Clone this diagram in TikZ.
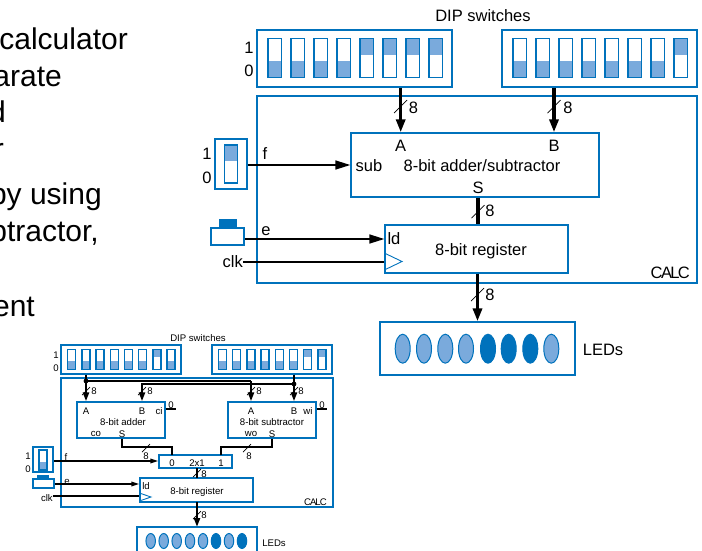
\documentclass[tikz,border=0pt]{standalone}
\usepackage{fontspec}
\setmainfont{Liberation Sans}
\newfontfamily\tightfont[LetterSpace=-10]{Liberation Sans}
\usetikzlibrary{arrows.meta,shapes.geometric}
\definecolor{edgeblue}{RGB}{0,114,188}
\definecolor{lightblue}{RGB}{122,170,220}
% #1 left, #2 top, #3 width, #4 height, #5 filled height, #6 state
\newcommand{\flipswitch}[6]{%
  \ifnum#6=1
    \fill[lightblue] (#1,#2) rectangle ++(#3,#5);
  \else
    \fill[lightblue] (#1,#2+#4-#5) rectangle ++(#3,#5);
  \fi
  \draw[swline] (#1,#2) rectangle ++(#3,#4);
}
\begin{document}
\begin{tikzpicture}[x=1pt, y=-1pt,
    bigtext/.style={font=\fontsize{16.5}{18}\selectfont, inner sep=0pt},
    smalltext/.style={font=\fontsize{9.6}{11}\selectfont, inner sep=0pt},
    slidetext/.style={font=\fontsize{30}{32}\selectfont, inner sep=0pt, anchor=base east},
    box/.style={draw=edgeblue, line width=1.4pt, inner sep=0pt},
    swline/.style={draw=edgeblue, line width=1.4pt},
    bigbus/.style={line width=3.2pt, -{Triangle[length=13pt,width=9pt]}},
    bigwire/.style={line width=1.6pt, -{Triangle[length=15pt,width=9pt]}},
    smallbus/.style={line width=2.6pt, -{Triangle[length=9pt,width=6pt]}},
    smallwire/.style={line width=1.6pt, -{Triangle[length=8pt,width=4.5pt]}},
    slash/.style={line width=0.7pt},
    ledon/.style={ellipse, draw=edgeblue, line width=1pt, fill=edgeblue, inner sep=0pt},
    ledoff/.style={ellipse, draw=edgeblue, line width=1pt, fill=lightblue, inner sep=0pt}]
    \useasboundingbox (0,0) rectangle (702,550);

    % text of the slide
    \node[slidetext] (txta) at (128,49.5) {calculator};
    \node[slidetext] (txtb) at (62,86) {arate};
    \node[slidetext] (txtc) at (6,122.7) {d};
    \node[slidetext] (txtd) at (4,159) {r};
    \node[slidetext] (txte) at (102,204) {by using};
    \node[slidetext] (txtf) at (99,241.7) {btractor,};
    \node[slidetext] (txtg) at (35,316) {ent};

    % large circuit
    \node[bigtext] (diplabel) at (483,16) {DIP switches};
    \node[box, minimum width=195pt, minimum height=57pt] (dipa) at (354.5,58.5) {};
    \node[box, minimum width=195pt, minimum height=57pt] (dipb) at (599.5,58.5) {};
    \foreach \x/\s in {0/0,1/0,2/0,3/0,4/1,5/1,6/1,7/1}
        \flipswitch{268+23*\x}{38.5}{13.3}{39}{16.5}{\s};
    \foreach \x/\s in {0/0,1/0,2/0,3/0,4/0,5/0,6/0,7/1}
        \flipswitch{513+23*\x}{38.5}{13.3}{39}{16.5}{\s};
    \node[bigtext] (onea) at (249,48) {1};
    \node[bigtext] (zeroa) at (249,71) {0};

    \node[box, line width=1.7pt, minimum width=440pt, minimum height=187pt] (calc) at (477,189.5) {};
    \node[bigtext, anchor=east] (calclabel) at (690,273) {\tightfont CALC};

    \node[box, minimum width=248pt, minimum height=64pt] (addsub) at (475,165) {};
    \node[bigtext] (ina) at (400.7,146) {A};
    \node[bigtext] (inb) at (554,146) {B};
    \node[bigtext] (subin) at (369,166) {sub};
    \node[bigtext] (addlabel) at (482,166) {8-bit adder/subtractor};
    \node[bigtext] (sumout) at (478,188) {S};

    \node[box, minimum width=32pt, minimum height=50pt] (swf) at (231,164) {};
    \flipswitch{224.7}{145}{12.6}{38}{16}{1};
    \node[bigtext] (onef) at (207,154) {1};
    \node[bigtext] (zerof) at (207,178) {0};
    \node[bigtext] (flabel) at (265,154) {f};

    \node[box, minimum width=183pt, minimum height=48pt] (reg) at (476.5,249) {};
    \node[bigtext] (ldin) at (394,239) {ld};
    \node[bigtext] (reglabel) at (481,251) {8-bit register};
    \draw[draw=edgeblue, line width=0.9pt] (reg.west |- 0,253) -- (402,261.5) -- (reg.west |- 0,270);

    \node[box, minimum width=33pt, minimum height=17pt] (btn) at (227.5,236.5) {};
    \fill[edgeblue] (219,219) rectangle (237,228);
    \node[bigtext] (elabel) at (266,231) {e};
    \node[bigtext, anchor=east] (clklabel) at (243,262) {clk};

    \node[box, minimum width=195pt, minimum height=53pt] (leds) at (477.5,348.5) {};
    \foreach \x/\st [count=\i] in {402.7/ledoff,424/ledoff,445.3/ledoff,466/ledoff,488/ledon,508.7/ledon,530.3/ledon,551.3/ledoff}
        \node[\st, minimum width=15pt, minimum height=29pt] (leda\i) at (\x,348.7) {};
    \node[bigtext] (ledlabel) at (603,350) {LEDs};

    \draw[bigbus] (ina |- dipa.south) -- (ina |- addsub.north);
    \draw[bigbus] (inb |- dipb.south) -- (inb |- addsub.north);
    \draw[line width=3.2pt] (sumout |- addsub.south) -- (sumout |- reg.north);
    \draw[bigbus] (leds.north |- reg.south) -- (leds.north);
    \draw[bigwire] (swf.east |- addsub.west) -- (addsub.west);
    \draw[bigwire] (btn.east |- 0,239) -- (reg.west |- 0,239);
    \draw[line width=1.6pt] (clklabel.east) -- (reg.west |- clklabel);

    \foreach \x/\y in {400.7/106,554/106,478/211,477.5/294}
        \draw[slash] (\x-6.5,\y+7) -- (\x+6.5,\y-6);
    \node[bigtext] (wa) at (413.5,108) {8};
    \node[bigtext] (wb) at (568,108) {8};
    \node[bigtext] (ws) at (490,211) {8};
    \node[bigtext] (wr) at (490,295) {8};

    % small circuit
    \node[smalltext] (diplabels) at (198,338) {DIP switches};
    \node[box, minimum width=120pt, minimum height=29pt] (dipc) at (121,359.5) {};
    \node[box, minimum width=120pt, minimum height=29pt] (dipd) at (272,359.5) {};
    \foreach \x/\s in {0/0,1/0,2/0,3/0,4/0,5/0,6/1,7/0}
        \flipswitch{67.7+14.2*\x}{349.3}{8}{20}{8}{\s};
    \foreach \x/\s in {0/0,1/0,2/0,3/0,4/0,5/0,6/1,7/1}
        \flipswitch{218.5+14.2*\x}{349.3}{8}{20}{8}{\s};
    \node[smalltext] (onec) at (56,355) {1};
    \node[smalltext] (zeroc) at (56,368) {0};

    \node[box, line width=1.7pt, minimum width=272pt, minimum height=129pt] (calcs) at (197,442.5) {};
    \node[smalltext, anchor=east] (calcslabel) at (327,502) {\tightfont CALC};

    \node[box, minimum width=88pt, minimum height=36pt] (adder) at (121,420) {};
    \node[smalltext] (aa) at (86,411) {A};
    \node[smalltext] (ab) at (142,411) {B};
    \node[smalltext] (aci) at (159,411) {ci};
    \node[smalltext] (acz) at (171,405) {0};
    \node[smalltext] (addertxt) at (123,422) {8-bit adder};
    \node[smalltext] (aco) at (96,434) {co};
    \node[smalltext] (as) at (122,434) {S};

    \node[box, minimum width=88pt, minimum height=36pt] (subtr) at (272,420) {};
    \node[smalltext] (sa) at (251,411) {A};
    \node[smalltext] (sb) at (294,411) {B};
    \node[smalltext] (swi) at (308,411) {wi};
    \node[smalltext] (swz) at (322,405) {0};
    \node[smalltext] (subtrtxt) at (272,422) {8-bit subtractor};
    \node[smalltext] (swo) at (251,434) {wo};
    \node[smalltext] (ss) at (272,434) {S};

    \node[box, minimum width=73pt, minimum height=13pt] (mux) at (195.5,461.5) {};
    \node[smalltext] (mz) at (172,463) {0};
    \node[smalltext] (mlabel) at (197,463) {2x1};
    \node[smalltext] (mo) at (221,463) {1};

    \node[box, minimum width=113pt, minimum height=24pt] (regs) at (196.5,490) {};
    \node[smalltext] (ldins) at (146,486) {ld};
    \node[smalltext] (regslabel) at (197,492) {8-bit register};
    \draw[draw=edgeblue, line width=0.9pt] (regs.west |- 0,493) -- (151,497) -- (regs.west |- 0,501);

    \node[box, minimum width=20pt, minimum height=25pt] (swg) at (43,459.5) {};
    \flipswitch{39}{450}{8}{20}{8}{0};
    \node[smalltext] (oneg) at (28,456) {1};
    \node[smalltext] (zerog) at (28,469) {0};
    \node[smalltext] (fs) at (66,457) {f};

    \node[box, minimum width=21pt, minimum height=9pt] (btns) at (43.5,483.5) {};
    \fill[edgeblue] (37,475) rectangle (49,479);
    \node[smalltext] (es) at (67,482) {e};
    \node[smalltext, anchor=east] (clks) at (53,498) {clk};

    \node[box, minimum width=120pt, minimum height=26pt] (ledsb) at (197,540) {};
    \foreach \x/\st [count=\i] in {150.7/ledoff,163.7/ledoff,176.7/ledoff,190/ledoff,203/ledoff,216/ledon,229/ledoff,242/ledon}
        \node[\st, minimum width=9.5pt, minimum height=15pt] (ledb\i) at (\x,541) {};
    \node[smalltext] (ledslabel) at (274,543) {LEDs};

    \coordinate (buslo) at (86,381);
    \coordinate (bushi) at (294,384);
    \draw[smallbus] (aa |- dipc.south) -- (aa |- adder.north);
    \draw[smallbus] (sb |- dipd.south) -- (sb |- subtr.north);
    \draw[line width=2.6pt] (buslo) -- (sa |- buslo);
    \draw[smallbus] (sa |- buslo) -- (sa |- subtr.north);
    \draw[smallbus] (bushi) -| (ab |- adder.north);
    \fill (buslo) circle (2.4);
    \fill (bushi) circle (2.4);
    \draw[line width=1.4pt] (adder.east |- 0,409) -- (176,409);
    \draw[line width=1.4pt] (subtr.east |- 0,409) -- (327,409);

    \draw[line width=2.4pt] (as |- adder.south) |- (172,447) -- (172,455);
    \draw[line width=2.4pt] (ss |- subtr.south) |- (221,447) -- (221,455);
    \draw[line width=2.4pt] (197,468) -- (197,478);
    \draw[smallbus] (197,502) -- (197,527);
    \draw[smallwire] (swg.east |- 0,461) -- (mux.west |- 0,461);
    \draw[smallwire] (btns.east |- 0,484) -- (regs.west |- 0,484);
    \draw[line width=1.6pt] (clks.east |- 0,496) -- (regs.west |- 0,496);

    \foreach \x/\y in {86/391,142/391,251/391,294/391,146/448,247/448,197/473,197/515}
        \draw[slash] (\x-4,\y+4) -- (\x+4,\y-4);
    \node[smalltext] (w1) at (94,391) {8};
    \node[smalltext] (w2) at (150,391) {8};
    \node[smalltext] (w3) at (259,391) {8};
    \node[smalltext] (w4) at (301,391) {8};
    \node[smalltext] (w5) at (146,456) {8};
    \node[smalltext] (w6) at (249,456) {8};
    \node[smalltext] (w7) at (204,474) {8};
    \node[smalltext] (w8) at (204,515) {8};
\end{tikzpicture}
\end{document}
